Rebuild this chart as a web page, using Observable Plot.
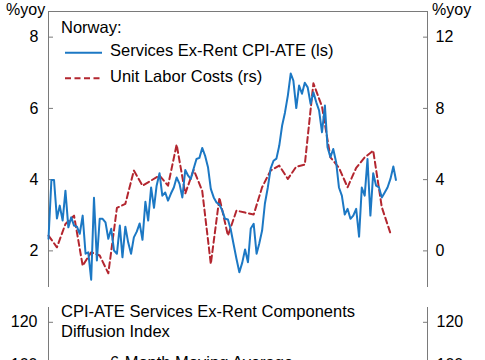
<!DOCTYPE html>
<html><head><meta charset="utf-8">
<script src="https://cdn.jsdelivr.net/npm/d3@7"></script>
<script src="https://cdn.jsdelivr.net/npm/@observablehq/plot@0.6"></script>
<style>
body{margin:0;background:#fff;}
#wrap{position:relative;width:485px;height:360px;overflow:hidden;background:#fff;font-family:"Liberation Sans",Arial,sans-serif;}
#wrap svg{position:absolute;left:0;}
</style></head><body><div id="wrap"></div>
<script>
// ---- data ----
const startMonth = "2003-01-01";
// Norway: Services Ex-Rent CPI-ATE, %yoy, monthly (left scale)
const servicesExRent = [2.34,3.99,3.99,2.91,3.27,2.85,3.69,2.66,2.94,2.71,2.68,2.48,2.99,1.92,1.96,1.19,3.49,1.73,2.90,2.90,
2.80,2.34,2.62,2.01,1.92,2.71,1.82,2.68,2.24,1.92,2.38,2.54,2.77,2.31,3.38,2.85,3.78,3.21,3.83,4.18,
3.55,3.64,3.41,3.61,3.78,4.06,3.88,3.50,4.27,4.11,4.02,4.31,4.58,4.61,4.89,4.67,4.35,3.74,3.50,3.36,
3.30,3.13,2.90,2.88,2.60,2.18,1.78,1.40,1.67,2.04,1.68,2.63,2.76,1.92,2.20,2.57,3.33,3.78,4.31,4.53,
4.59,4.95,5.52,5.88,6.36,6.98,6.78,6.01,6.64,6.41,6.72,6.59,6.13,6.45,6.17,5.94,5.33,6.08,4.91,4.63,
4.86,4.49,3.78,3.55,3.02,3.18,2.90,2.99,3.18,2.40,3.78,3.55,4.58,2.99,4.18,3.83,3.78,3.50,3.64,3.78,
4.02,4.37,3.99];
// Norway: Unit Labor Costs, %yoy, quarterly (right scale)
const unitLaborCosts = [0.86,0.20,1.51,1.98,-0.83,-0.08,-0.26,-1.26,2.41,2.64,4.51,3.66,3.95,4.23,3.66,5.97,3.22,4.55,3.38,-0.73,
2.99,0.86,2.26,2.15,2.04,3.57,4.51,4.79,4.04,4.73,4.84,9.41,8.10,5.25,4.67,3.57,4.66,5.25,5.63,2.45,0.99];
const leftTicks = [2, 4, 6, 8];
const rightTicks = [0, 4, 8, 12];
const diffusionTicks = [120, 100, 80, 60, 40];
const leftDomain = [1, 8.72];
const diffusionDomain = [40, 127];
const monthsShown = 133;

// ---- helpers ----
const t0 = new Date(startMonth + "T00:00:00Z");
const tEnd = d3.utcMonth.offset(t0, monthsShown);
const blueData = servicesExRent.map((v, i) => ({date: d3.utcMonth.offset(t0, i), value: v}));
const redData = unitLaborCosts.map((v, i) => ({date: d3.utcMonth.offset(t0, 3 * i), value: v}));
const rsToLs = r => (r + 4) / 2;
const lsToRs = l => 2 * l - 4;

const BLUE = "#1c78c4", RED = "#b3262f", GRAY = "#7a7a7a";
const FONT = "Liberation Sans, Arial, sans-serif";
const wrap = document.getElementById("wrap");

const topPlot = Plot.plot({
  width: 485, height: 296,
  marginTop: 11, marginBottom: 10, marginLeft: 48, marginRight: 58,
  style: {fontFamily: FONT, fontSize: "16px", color: "#000", background: "transparent", overflow: "visible"},
  x: {type: "utc", domain: [t0, tEnd], axis: null},
  y: {domain: leftDomain, axis: null},
  marks: [
    Plot.frame({anchor: "top", stroke: GRAY}),
    Plot.frame({anchor: "left", stroke: GRAY}),
    Plot.frame({anchor: "right", stroke: GRAY}),
    Plot.axisY(leftTicks, {anchor: "left", tickSize: -5, tickPadding: 15, stroke: GRAY, fill: "#000", label: null, fontSize: 16}),
    Plot.axisY(rightTicks.map(rsToLs), {anchor: "right", tickSize: -5, tickPadding: 13, stroke: GRAY, fill: "#000", label: null, fontSize: 16, tickFormat: d => String(lsToRs(d))}),
    Plot.line(redData, {x: "date", y: d => rsToLs(d.value), stroke: RED, strokeWidth: 2, strokeDasharray: "6,3.5"}),
    Plot.line(blueData, {x: "date", y: "value", stroke: BLUE, strokeWidth: 2})
  ]
});
topPlot.style.top = "0px";
wrap.appendChild(topPlot);

const bottomPlot = Plot.plot({
  width: 485, height: 205,
  marginTop: 11, marginBottom: 10, marginLeft: 48, marginRight: 58,
  style: {fontFamily: FONT, fontSize: "16px", color: "#000", background: "transparent", overflow: "visible"},
  x: {type: "utc", domain: [t0, tEnd], axis: null},
  y: {domain: diffusionDomain, axis: null},
  marks: [
    Plot.frame({anchor: "left", stroke: GRAY}),
    Plot.frame({anchor: "right", stroke: GRAY}),
    Plot.axisY(diffusionTicks, {anchor: "left", tickSize: -5, tickPadding: 16, stroke: GRAY, fill: "#000", label: null, fontSize: 16}),
    Plot.axisY(diffusionTicks, {anchor: "right", tickSize: -5, tickPadding: 14, stroke: GRAY, fill: "#000", label: null, fontSize: 16})
  ]
});
bottomPlot.style.top = "296px";
wrap.appendChild(bottomPlot);

// ---- overlay: unit labels, titles and legends ----
const ov = d3.select(wrap).append("svg")
  .attr("width", 485).attr("height", 360)
  .style("top", "0px").style("pointer-events", "none")
  .attr("font-family", FONT).attr("fill", "#000");
function txt(s, x, y, size, anchor) {
  ov.append("text").attr("x", x).attr("y", y).attr("font-size", size)
    .attr("text-anchor", anchor || "start").text(s);
}
function swatch(x1, x2, y, color, dash) {
  const l = ov.append("line").attr("x1", x1).attr("x2", x2).attr("y1", y).attr("y2", y)
    .attr("stroke", color).attr("stroke-width", 2);
  if (dash) l.attr("stroke-dasharray", dash);
}
txt("%yoy", 6, 15, 16);
txt("%yoy", 432, 15, 16);
txt("Norway:", 61, 33.3, 16.5);
swatch(65, 102, 52.7, BLUE);
txt("Services Ex-Rent CPI-ATE (ls)", 110, 56.3, 16.5);
swatch(65, 101, 78.3, RED, "6,3.5");
txt("Unit Labor Costs (rs)", 110, 82.3, 16.5);
txt("CPI-ATE Services Ex-Rent Components", 61, 316.7, 16.5);
txt("Diffusion Index", 61, 336.7, 16.5);
swatch(65, 100, 362, BLUE);
txt("6-Month Moving Average", 110, 367.8, 16.5);
</script></body></html>
